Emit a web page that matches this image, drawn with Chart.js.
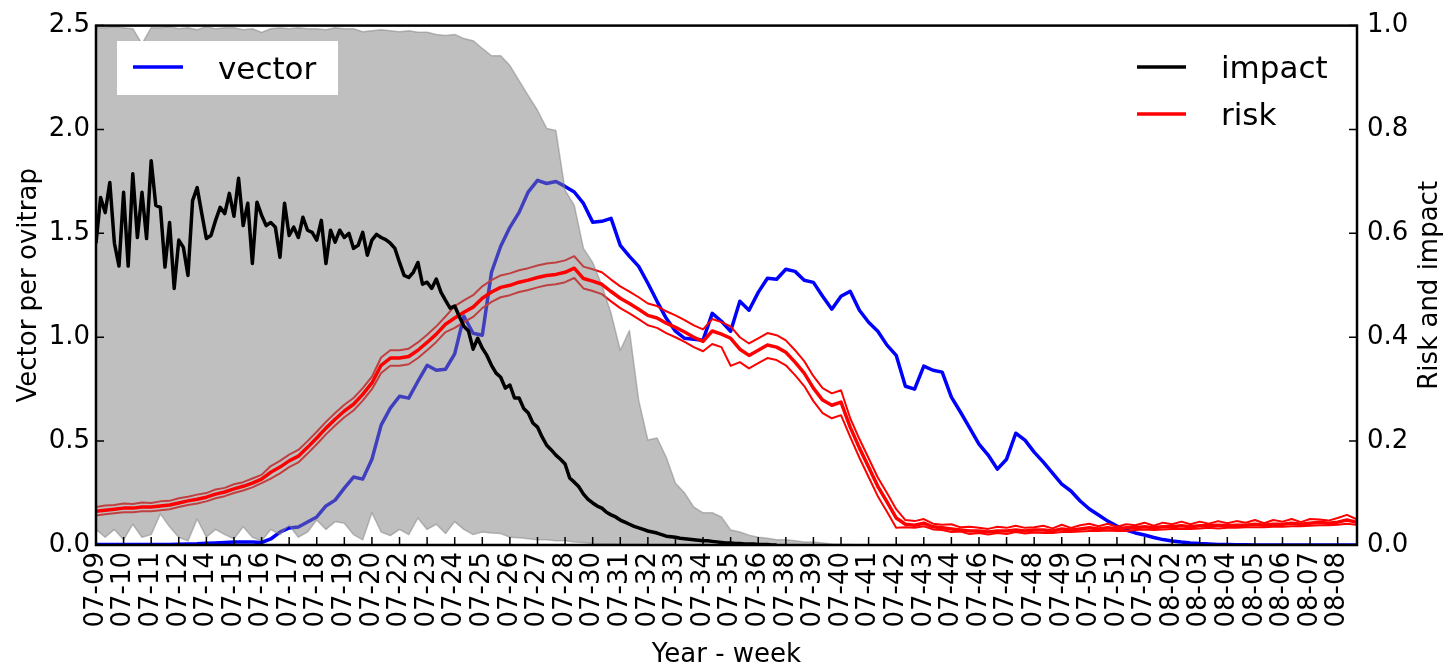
<!DOCTYPE html>
<html>
<head>
<meta charset="utf-8">
<title>Vector, risk and impact</title>
<script src="https://cdn.jsdelivr.net/npm/chart.js@4.4.1/dist/chart.umd.min.js"></script>
<style>
html,body{margin:0;padding:0;background:#fff;}
#wrap{width:1456px;height:667px;}
</style>
</head>
<body>
<div id="wrap"><canvas id="chart" width="1456" height="667"></canvas></div>
<script>

// samples per labelled tick on the x axis (impact is read at a finer step, it is noisier)
const PER_TICK = 3;
const IMPACT_PER_TICK = 6;

const TICK_LABELS = [
"07-09","07-10","07-11","07-12","07-14","07-15","07-16","07-17","07-18","07-19",
"07-20","07-22","07-23","07-24","07-25","07-26","07-27","07-28","07-30","07-31",
"07-32","07-33","07-34","07-35","07-36","07-38","07-39","07-40","07-41","07-42",
"07-43","07-44","07-46","07-47","07-48","07-49","07-50","07-51","07-52","08-02",
"08-03","08-04","08-05","08-06","08-07","08-08"
];

// vector per ovitrap (left axis)
const VECTOR = [
0.002,0.002,0.002,0.002,0.002,0.002,0.002,0.003,0.003,0.004,
0.005,0.006,0.008,0.010,0.012,0.014,0.015,0.014,0.012,0.029,
0.062,0.082,0.087,0.111,0.135,0.188,0.216,0.274,0.327,0.317,
0.413,0.577,0.659,0.716,0.707,0.788,0.865,0.841,0.846,0.920,
1.101,1.019,1.010,1.313,1.438,1.529,1.601,1.700,1.755,1.740,
1.750,1.726,1.699,1.644,1.554,1.558,1.572,1.442,1.389,1.341,
1.260,1.173,1.091,1.029,0.995,0.990,0.986,1.115,1.077,1.029,
1.173,1.130,1.216,1.284,1.279,1.327,1.317,1.274,1.264,1.197,
1.135,1.197,1.221,1.130,1.072,1.029,0.962,0.913,0.764,0.750,
0.861,0.841,0.832,0.712,0.639,0.563,0.486,0.433,0.365,0.413,
0.538,0.505,0.447,0.399,0.346,0.293,0.260,0.212,0.173,0.144,
0.115,0.091,0.072,0.058,0.048,0.036,0.026,0.019,0.014,0.010,
0.007,0.005,0.003,0.002,0.001,0.001,0,0,0,0,
0,0,0,0,0,0,0,0,0
];

// impact (right axis), IMPACT_PER_TICK samples per tick
const IMPACT = [
0.581,0.669,0.640,0.698,0.581,0.537,0.679,0.537,0.715,0.592,
0.679,0.590,0.740,0.654,0.650,0.535,0.621,0.494,0.587,0.573,
0.519,0.663,0.688,0.638,0.590,0.596,0.625,0.650,0.638,0.677,
0.633,0.706,0.615,0.658,0.542,0.660,0.635,0.615,0.621,0.612,
0.554,0.658,0.596,0.612,0.592,0.631,0.606,0.602,0.587,0.625,
0.542,0.606,0.583,0.606,0.592,0.600,0.571,0.577,0.602,0.558,
0.587,0.598,0.592,0.588,0.581,0.571,0.544,0.519,0.515,0.525,
0.544,0.502,0.506,0.494,0.512,0.487,0.471,0.456,0.460,0.440,
0.421,0.412,0.377,0.398,0.379,0.365,0.346,0.331,0.323,0.302,
0.308,0.283,0.283,0.263,0.254,0.235,0.227,0.208,0.192,0.183,
0.173,0.165,0.156,0.129,0.121,0.112,0.098,0.088,0.081,0.075,
0.071,0.063,0.058,0.054,0.048,0.044,0.040,0.036,0.033,0.030,
0.027,0.025,0.023,0.020,0.017,0.016,0.015,0.013,0.012,0.011,
0.010,0.009,0.008,0.008,0.007,0.006,0.005,0.004,0.004,0.003,
0.003,0.002,0.002,0.002,0.001,0.001,0.001,0,0
];

// risk, central estimate and its two bounds (right axis)
const RISK_MID = [
0.065,0.067,0.069,0.071,0.071,0.073,0.073,0.075,0.077,0.081,
0.085,0.088,0.092,0.098,0.102,0.108,0.113,0.119,0.127,0.140,
0.150,0.162,0.171,0.188,0.206,0.225,0.242,0.258,0.271,0.290,
0.312,0.346,0.360,0.360,0.363,0.375,0.390,0.406,0.425,0.437,
0.448,0.458,0.475,0.487,0.496,0.500,0.506,0.510,0.515,0.519,
0.521,0.525,0.533,0.513,0.508,0.502,0.488,0.475,0.465,0.454,
0.442,0.437,0.427,0.419,0.410,0.400,0.392,0.412,0.406,0.398,
0.377,0.365,0.375,0.385,0.381,0.371,0.352,0.331,0.302,0.279,
0.269,0.275,0.227,0.187,0.150,0.113,0.083,0.052,0.040,0.038,
0.042,0.035,0.033,0.031,0.029,0.027,0.027,0.025,0.027,0.027,
0.029,0.027,0.029,0.029,0.027,0.031,0.029,0.031,0.033,0.031,
0.033,0.031,0.033,0.033,0.035,0.033,0.035,0.035,0.037,0.035,
0.037,0.037,0.038,0.037,0.038,0.038,0.040,0.038,0.040,0.040,
0.042,0.040,0.042,0.044,0.042,0.044,0.048,0.044,0.044
];

const RISK_HIGH = [
0.073,0.076,0.077,0.080,0.079,0.082,0.081,0.084,0.085,0.090,
0.093,0.097,0.100,0.107,0.110,0.117,0.121,0.128,0.135,0.152,
0.162,0.174,0.183,0.200,0.218,0.237,0.254,0.270,0.283,0.302,
0.324,0.361,0.375,0.375,0.378,0.390,0.405,0.421,0.440,0.460,
0.471,0.481,0.498,0.510,0.519,0.523,0.529,0.533,0.538,0.542,
0.544,0.548,0.556,0.536,0.531,0.525,0.511,0.498,0.488,0.477,
0.465,0.460,0.450,0.442,0.433,0.423,0.415,0.435,0.429,0.421,
0.400,0.388,0.398,0.408,0.404,0.394,0.375,0.354,0.325,0.302,
0.292,0.298,0.244,0.204,0.167,0.130,0.100,0.069,0.048,0.046,
0.050,0.041,0.039,0.040,0.034,0.035,0.033,0.031,0.035,0.033,
0.037,0.033,0.034,0.037,0.032,0.039,0.033,0.038,0.041,0.036,
0.041,0.035,0.040,0.038,0.043,0.037,0.043,0.040,0.045,0.040,
0.045,0.041,0.046,0.042,0.046,0.043,0.048,0.042,0.048,0.045,
0.050,0.044,0.050,0.049,0.047,0.052,0.058,0.050,0.050
];

const RISK_LOW = [
0.057,0.059,0.061,0.063,0.063,0.065,0.065,0.067,0.069,0.073,
0.077,0.080,0.084,0.090,0.094,0.100,0.105,0.111,0.119,0.128,
0.138,0.150,0.159,0.176,0.194,0.213,0.230,0.246,0.259,0.278,
0.300,0.331,0.345,0.345,0.348,0.360,0.375,0.391,0.410,0.418,
0.429,0.439,0.456,0.468,0.477,0.481,0.487,0.491,0.496,0.500,
0.502,0.506,0.514,0.494,0.489,0.483,0.469,0.456,0.446,0.435,
0.423,0.418,0.408,0.400,0.391,0.381,0.373,0.387,0.381,0.345,
0.352,0.340,0.350,0.360,0.356,0.346,0.327,0.306,0.277,0.254,
0.244,0.250,0.208,0.168,0.131,0.094,0.064,0.033,0.034,0.033,
0.036,0.030,0.029,0.025,0.026,0.021,0.023,0.020,0.023,0.021,
0.025,0.022,0.024,0.023,0.023,0.025,0.025,0.026,0.027,0.027,
0.028,0.027,0.027,0.029,0.030,0.029,0.030,0.031,0.031,0.031,
0.032,0.033,0.032,0.033,0.033,0.034,0.034,0.034,0.035,0.035,
0.036,0.036,0.037,0.038,0.038,0.039,0.041,0.039,0.039
];

// grey uncertainty band, upper and lower edge (right axis)
const BAND_UPPER = [
0.996,0.996,0.998,0.996,0.994,0.965,0.996,0.996,0.998,0.994,
0.996,0.992,0.998,0.994,0.996,0.996,0.992,0.994,0.987,0.994,
0.996,0.994,0.996,0.994,0.994,0.992,0.996,0.994,0.994,0.988,
0.990,0.992,0.990,0.988,0.990,0.987,0.987,0.983,0.981,0.983,
0.975,0.971,0.956,0.942,0.942,0.923,0.894,0.865,0.837,0.802,
0.798,0.683,0.654,0.571,0.544,0.500,0.446,0.375,0.413,0.279,
0.202,0.206,0.169,0.119,0.100,0.073,0.062,0.062,0.054,0.029,
0.025,0.019,0.015,0.013,0.010,0.010,0.008,0.006,0.006,0.004,
0.002,0.001,0.001,0,0,0,0,0,0,0,
0,0,0,0,0,0,0,0,0,0,
0,0,0,0,0,0,0,0,0,0,
0,0,0,0,0,0,0,0,0,0,
0,0,0,0,0,0,0,0,0,0,
0,0,0,0,0,0,0,0,0
];

const BAND_LOWER = [
0.030,0.015,0.030,0.010,0.040,0.015,0.020,0.060,0.035,0.015,
0.008,0.050,0.015,0.030,0.020,0.012,0.035,0.015,0.008,0.030,
0.020,0.038,0.015,0.025,0.048,0.030,0.045,0.042,0.020,0.010,
0.062,0.025,0.018,0.030,0.020,0.052,0.030,0.040,0.022,0.045,
0.030,0.020,0.025,0.023,0.022,0.015,0.014,0.012,0.010,0.010,
0.008,0.008,0.006,0.005,0.003,0.002,0.002,0.001,0.001,0.001,
0,0,0,0,0,0,0,0,0,0,
0,0,0,0,0,0,0,0,0,0,
0,0,0,0,0,0,0,0,0,0,
0,0,0,0,0,0,0,0,0,0,
0,0,0,0,0,0,0,0,0,0,
0,0,0,0,0,0,0,0,0,0,
0,0,0,0,0,0,0,0,0,0,
0,0,0,0,0,0,0,0,0
];

const FONT = "'DejaVu Sans', sans-serif";
const BAND_GREY = "rgba(128,128,128,0.5)";

function toPoints(vals, perTick){
  return vals.map((v,i)=>({x:i/perTick, y:v}));
}

function line(label, vals, color, width, axis, perTick){
  return {
    label,
    data:toPoints(vals, perTick || PER_TICK),
    borderColor:color,
    borderWidth:width,
    yAxisID:axis,
    pointRadius:0,
    tension:0,
    fill:false,
    borderJoinStyle:"round"
  };
}

// first dataset is drawn on top
const datasets = [
  line("impact", IMPACT, "#000000", 3.5, "yR", IMPACT_PER_TICK),
  line("risk", RISK_MID, "#ff0000", 3.5, "yR"),
  Object.assign(line("band upper", BAND_UPPER, BAND_GREY, 1.5, "yR"), {fill:3, backgroundColor:BAND_GREY}),
  line("band lower", BAND_LOWER, BAND_GREY, 1.5, "yR"),
  line("risk high", RISK_HIGH, "#ff0000", 2, "yR"),
  line("risk low", RISK_LOW, "#ff0000", 2, "yR"),
  line("vector", VECTOR, "#0000ff", 3.5, "y")
];

// frame, inward ticks, the two legends and the right axis title
const decorations = {
  id:"decorations",
  afterDatasetsDraw(chart){
    const {ctx, chartArea:a, scales} = chart;
    ctx.save();

    ctx.strokeStyle = "#000";
    ctx.lineWidth = 1.5;
    ctx.beginPath();
    scales.x.ticks.forEach(t=>{
      const px = scales.x.getPixelForValue(t.value);
      if(px < a.left || px > a.right) return;
      ctx.moveTo(px, a.bottom); ctx.lineTo(px, a.bottom-8);
    });
    scales.y.ticks.forEach(t=>{
      const py = scales.y.getPixelForValue(t.value);
      ctx.moveTo(a.left, py); ctx.lineTo(a.left+8, py);
    });
    scales.yR.ticks.forEach(t=>{
      const py = scales.yR.getPixelForValue(t.value);
      ctx.moveTo(a.right, py); ctx.lineTo(a.right-8, py);
    });
    ctx.stroke();

    ctx.lineWidth = 2.5;
    ctx.strokeRect(a.left, a.top, a.right-a.left, a.bottom-a.top);

    // left legend
    ctx.fillStyle = "#fff";
    ctx.fillRect(117, 41, 221, 54);
    ctx.lineWidth = 3.5;
    ctx.strokeStyle = "#0000ff";
    ctx.beginPath(); ctx.moveTo(133, 67); ctx.lineTo(183, 67); ctx.stroke();
    ctx.font = "31px " + FONT;
    ctx.fillStyle = "#000";
    ctx.textBaseline = "alphabetic";
    ctx.textAlign = "left";
    ctx.fillText("vector", 218, 79);

    // right legend
    ctx.strokeStyle = "#000";
    ctx.beginPath(); ctx.moveTo(1137, 67); ctx.lineTo(1186, 67); ctx.stroke();
    ctx.strokeStyle = "#ff0000";
    ctx.beginPath(); ctx.moveTo(1137, 114); ctx.lineTo(1186, 114); ctx.stroke();
    ctx.fillText("impact", 1221, 78);
    ctx.fillText("risk", 1221, 125);

    // right axis title, reading bottom to top
    ctx.font = "26px " + FONT;
    ctx.translate(1430, (a.top+a.bottom)/2);
    ctx.rotate(-Math.PI/2);
    ctx.textAlign = "center";
    ctx.textBaseline = "middle";
    ctx.fillText("Risk and impact", 0, 0);

    ctx.restore();
  }
};

Chart.defaults.font.family = FONT;
Chart.defaults.font.size = 26;
Chart.defaults.color = "#000";

new Chart(document.getElementById("chart"), {
  type:"line",
  data:{datasets},
  plugins:[decorations],
  options:{
    responsive:false,
    animation:false,
    layout:{padding:{top:25,left:0,right:0,bottom:0}},
    plugins:{legend:{display:false}, tooltip:{enabled:false}},
    scales:{
      x:{
        type:"linear",
        min:0,
        max:45.7,
        afterBuildTicks(s){ s.ticks = TICK_LABELS.map((_,i)=>({value:i})); },
        afterFit(s){ s.height = 122; },
        grid:{display:false, drawTicks:false},
        border:{display:false},
        ticks:{autoSkip:false, minRotation:90, maxRotation:90, padding:7, callback:(v,i)=>TICK_LABELS[i]},
        title:{display:true, text:"Year - week", padding:{top:0,bottom:-4}}
      },
      y:{
        position:"left",
        min:0,
        max:2.5,
        afterFit(s){ s.width = 96; },
        grid:{display:false, drawTicks:false},
        border:{display:false},
        ticks:{stepSize:0.5, padding:6, callback:v=>v.toFixed(1)},
        title:{display:true, text:"Vector per ovitrap", padding:{top:14,bottom:0}}
      },
      yR:{
        position:"right",
        min:0,
        max:1,
        afterFit(s){ s.width = 99; },
        grid:{display:false, drawTicks:false},
        border:{display:false},
        ticks:{stepSize:0.2, padding:10, callback:v=>v.toFixed(1)}
      }
    }
  }
});

</script>
</body>
</html>
